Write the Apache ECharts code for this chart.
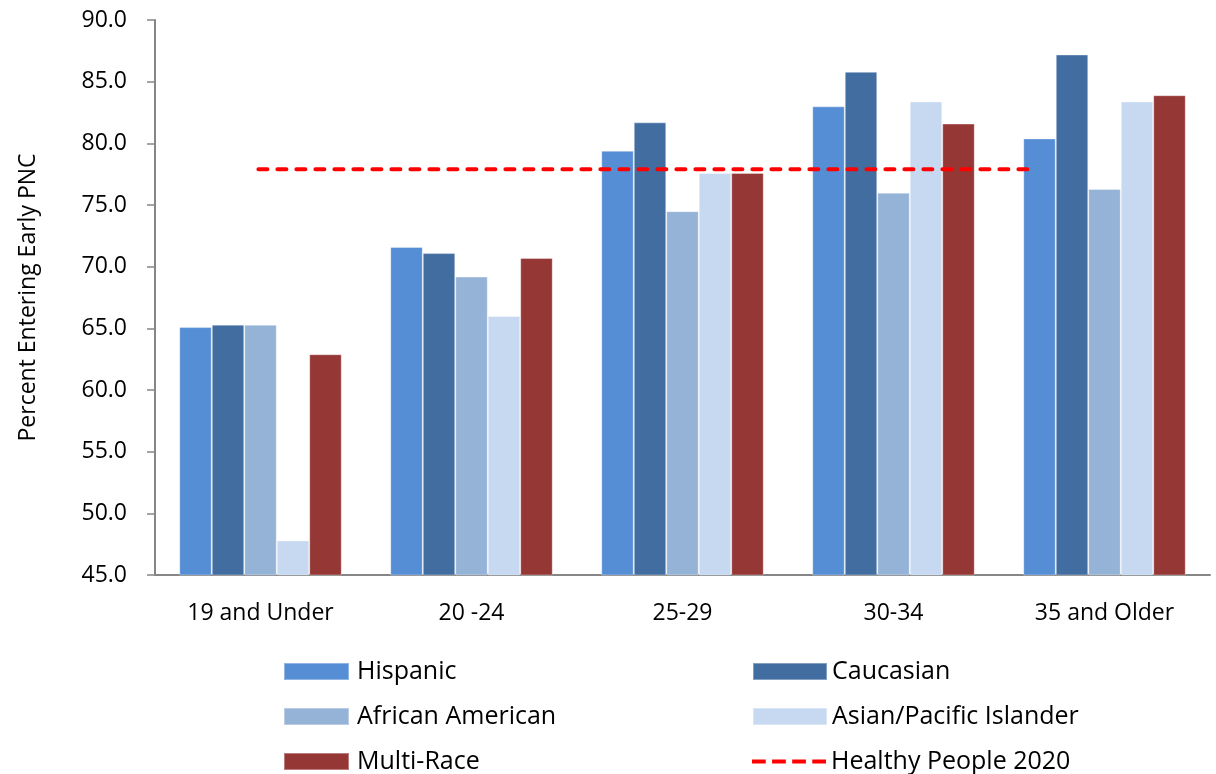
<!DOCTYPE html>
<html><head><meta charset="utf-8">
<script src="https://cdn.jsdelivr.net/npm/echarts@6/dist/echarts.min.js"></script>
<style>html,body{margin:0;padding:0;background:#fff}#c{width:1216px;height:774px}</style>
</head><body><div id="c"></div>
<script>
var categories = ['19 and Under', '20 -24', '25-29', '30-34', '35 and Older'];
var hispanic = [65.1, 71.6, 79.4, 83.0, 80.4];
var caucasian = [65.3, 71.1, 81.7, 85.8, 87.2];
var africanAmerican = [65.3, 69.2, 74.5, 76.0, 76.3];
var asianPacific = [47.8, 66.0, 77.6, 83.4, 83.4];
var multiRace = [62.9, 70.7, 77.6, 81.6, 83.9];
var healthyPeopleValue = 77.9;
var healthyPeopleSpan = [0.49, 4.15]; // position along category range (0..5)
var yTicks = {min: 45, max: 90, interval: 5};
var legendCols = [['Hispanic', 'African American', 'Multi-Race'],
                  ['Caucasian', 'Asian/Pacific Islander', 'Healthy People 2020']];

var font = '"Open Sans", sans-serif';
var chart = echarts.init(document.getElementById('c'));
function bar(name, data, color) {
  return {name: name, type: 'bar', data: data, barGap: '0%', barCategoryGap: '23%',
    itemStyle: {color: color, borderColor: 'rgba(255,255,255,0.35)', borderWidth: 1}};
}
var dashIcon = 'path://M0,0h13v4h-13z M19,0h13v4h-13z M38,0h13v4h-13z M57,0h13v4h-13z';
var legends = [];
var colLeft = [283, 752], colIconW = [65, 74], rowTop = [659, 704, 749];
legendCols.forEach(function (col, c) {
  col.forEach(function (name, r) {
    legends.push({
      orient: 'horizontal', left: colLeft[c], top: rowTop[r], padding: 0,
      itemWidth: colIconW[c], itemHeight: 17,
      textStyle: {fontSize: 25, lineHeight: 22, fontFamily: font, color: '#000', padding: [0, 0, 0, c === 0 ? 3 : 0]},
      data: [{name: name, icon: name === 'Healthy People 2020' ? dashIcon : 'rect'}]
    });
  });
});
chart.setOption({
  animation: false,
  grid: {left: 155, right: 6, top: 20, bottom: 199},
  xAxis: [{
    type: 'category', data: categories,
    axisLine: {lineStyle: {color: '#868686', width: 2}},
    axisTick: {show: false},
    axisLabel: {color: '#000', fontSize: 23, fontFamily: font, margin: 27}
  }, {
    type: 'value', min: 0, max: 5, show: false
  }],
  yAxis: {
    type: 'value', min: yTicks.min, max: yTicks.max, interval: yTicks.interval,
    name: 'Percent Entering Early PNC', nameLocation: 'middle', nameGap: 115,
    nameTextStyle: {color: '#000', fontSize: 23, fontFamily: font},
    axisLine: {show: true, lineStyle: {color: '#868686', width: 2}},
    axisTick: {show: true, length: 8, lineStyle: {color: '#868686', width: 1.5}},
    splitLine: {show: false},
    axisLabel: {color: '#000', fontSize: 23, fontFamily: font, margin: 28,
      formatter: function (v) { return v.toFixed(1); }}
  },
  legend: legends,
  series: [
    bar('Hispanic', hispanic, '#558ED5'),
    bar('Caucasian', caucasian, '#426DA0'),
    bar('African American', africanAmerican, '#95B3D7'),
    bar('Asian/Pacific Islander', asianPacific, '#C6D9F1'),
    bar('Multi-Race', multiRace, '#953735'),
    {
      name: 'Healthy People 2020', type: 'line', xAxisIndex: 1, symbol: 'none',
      data: healthyPeopleSpan.map(function (x) { return [x, healthyPeopleValue]; }),
      itemStyle: {color: '#FF0000'},
      lineStyle: {color: '#FF0000', width: 4, type: [9, 10], cap: 'round'},
      z: 5
    }
  ]
});
</script></body></html>
